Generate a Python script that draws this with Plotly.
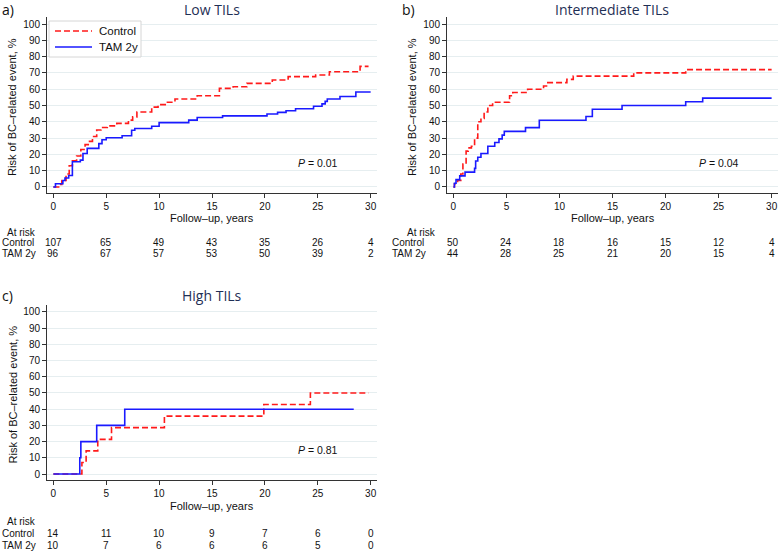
import plotly.graph_objects as go

W, H = 778, 551

# ---------------- data ----------------
a_ctrl_t = [0, 0.5, 0.8, 1.2, 1.5, 1.8, 2.2, 2.6, 3.0, 3.3, 3.7, 4.1, 4.5, 5.1, 6.0, 7.1, 7.5, 7.9, 9.3, 9.9, 10.7, 11.5, 13.6, 15.7, 17.0, 18.3, 20.7, 22.2, 24.8, 26.1, 29.0, 29.8]
a_ctrl_r = [0, 1.5, 4, 8, 13, 16, 19, 23, 26, 28, 31, 35, 36.5, 37.5, 39, 41, 43, 46, 49, 50.5, 52, 54, 56, 60.5, 61.5, 63.6, 65.6, 67.7, 68.7, 70.7, 74, 74]
a_tam_t = [0, 0.2, 0.9, 1.1, 1.45, 1.8, 2.55, 2.8, 3.2, 4.3, 4.6, 5.0, 6.5, 7.4, 7.7, 9.3, 10.0, 12.8, 13.6, 16.0, 20.2, 21.2, 22.0, 22.9, 24.6, 25.4, 25.7, 25.9, 27.1, 28.6, 30.0]
a_tam_r = [0, 2, 4, 5.5, 7, 15.5, 16.5, 20.5, 23.7, 26.6, 29, 30.2, 31.4, 34.8, 35.9, 37.3, 39.5, 41, 42.6, 43.6, 44.8, 45.8, 46.8, 48, 49.5, 51, 52.5, 54, 55.5, 58.3, 58.3]

b_ctrl_t = [0, 0.1, 0.4, 0.7, 0.9, 1.2, 1.4, 1.7, 2.0, 2.3, 2.6, 2.9, 3.25, 3.7, 5.3, 5.6, 7.0, 8.5, 8.9, 10.7, 11.3, 17.0, 21.9, 30.0]
b_ctrl_r = [0, 2, 4, 8, 14, 22, 24, 25, 30, 40, 42, 46, 50, 52, 56, 58, 60, 62, 64, 66, 68, 70, 72, 72]
b_tam_t = [0, 0.1, 0.25, 0.6, 1.1, 2.0, 2.1, 2.3, 2.6, 3.25, 3.9, 4.3, 4.6, 4.8, 6.8, 8.1, 12.5, 13.1, 15.9, 21.9, 23.5, 30.0]
b_tam_r = [0, 2.3, 4.5, 6.8, 9.1, 11.4, 15.9, 18.2, 20.5, 25, 27.3, 29.5, 31.8, 34.1, 36.4, 40.9, 43.2, 47.7, 50, 52.3, 54.5, 54.5]

c_ctrl_t = [0, 2.7, 3.1, 4.2, 5.5, 10.5, 19.9, 24.3, 29.8]
c_ctrl_r = [0, 7.1, 14.3, 21.4, 28.6, 35.7, 42.9, 50, 50]
c_tam_t = [0, 2.5, 2.6, 4.1, 6.75, 28.4]
c_tam_r = [0, 10, 20, 30, 40, 40]

risk_times = [0, 5, 10, 15, 20, 25, 30]
a_ctrl_n = [107, 65, 49, 43, 35, 26, 4]
a_tam_n = [96, 67, 57, 53, 50, 39, 2]
b_ctrl_n = [50, 24, 18, 16, 15, 12, 4]
b_tam_n = [44, 28, 25, 21, 20, 15, 4]
c_ctrl_n = [14, 11, 10, 9, 7, 6, 0]
c_tam_n = [10, 7, 6, 6, 6, 5, 0]

titles = ["Low TILs", "Intermediate TILs", "High TILs"]
panel_labels = ["a)", "b)", "c)"]
p_values = ["0.01", "0.04", "0.81"]
group_names = ["Control", "TAM 2y"]

# ---------------- layout helpers ----------------
def px(x):
    return x / W

def py(y):
    return 1 - y / H

FONT = "Liberation Sans, Arial, sans-serif"
RED = "#ff1a1a"
BLUE = "#1a1aff"
GRID = "#e6eef0"
NAVY = "#1f2f55"
TXT = "#111111"
RED_DASH = "6px,3px"

# panel geometry in pixels: (left, right, top, bottom)
panels = [
    dict(l=47, r=377, t=17, b=193, label_x=0, title_x=212, title_y=9.5, ytitle_x=12,
         xt_y=218, ar_y=232, c_y=242, t_y=253, row_x=0, ar_x=38, p_x=318, p_y=163),
    dict(l=447, r=778, t=17, b=193, label_x=400, title_x=612, title_y=9.5, ytitle_x=412,
         xt_y=218, ar_y=232, c_y=242, t_y=253, row_x=390, ar_x=438, p_x=719, p_y=163),
    dict(l=47, r=377, t=305, b=480, label_x=0, title_x=212, title_y=295, ytitle_x=12,
         xt_y=506, ar_y=521, c_y=533, t_y=545, row_x=0, ar_x=38, p_x=318, p_y=450),
]

data = [
    (a_ctrl_t, a_ctrl_r, a_tam_t, a_tam_r, a_ctrl_n, a_tam_n),
    (b_ctrl_t, b_ctrl_r, b_tam_t, b_tam_r, b_ctrl_n, b_tam_n),
    (c_ctrl_t, c_ctrl_r, c_tam_t, c_tam_r, c_ctrl_n, c_tam_n),
]

fig = go.Figure()
annotations = []
shapes = []
layout_axes = {}

for i, (pn, d) in enumerate(zip(panels, data)):
    k = "" if i == 0 else str(i + 1)
    xref = "x" + k
    yref = "y" + k
    ct, cr, tt, tr, cn, tn = d
    fig.add_trace(go.Scatter(x=ct, y=cr, mode="lines", line_shape="hv", name=group_names[0],
                             line=dict(color=RED, width=1.6, dash=RED_DASH),
                             xaxis=xref, yaxis=yref, showlegend=False))
    fig.add_trace(go.Scatter(x=tt, y=tr, mode="lines", line_shape="hv", name=group_names[1],
                             line=dict(color=BLUE, width=1.6),
                             xaxis=xref, yaxis=yref, showlegend=False))
    layout_axes["xaxis" + k] = dict(
        domain=[px(pn["l"]), px(pn["r"])], range=[-0.6, 30.6], anchor=yref,
        tickvals=risk_times, ticks="outside", ticklen=4, tickcolor="#333",
        showline=True, linecolor="#333", linewidth=1, showgrid=False, zeroline=False,
        tickfont=dict(family=FONT, size=10, color=TXT), fixedrange=True)
    layout_axes["yaxis" + k] = dict(
        domain=[py(pn["b"]), py(pn["t"])], range=[-3.7, 104.3], anchor=xref,
        tickvals=list(range(0, 101, 10)), ticks="outside", ticklen=4, tickcolor="#333",
        showline=True, linecolor="#333", linewidth=1, showgrid=True, gridcolor=GRID,
        gridwidth=1, zeroline=False,
        tickfont=dict(family=FONT, size=10, color=TXT), fixedrange=True)

    annotations.append(dict(text=panel_labels[i], x=px(pn["label_x"]), y=py(pn["title_y"]),
                            xref="paper", yref="paper", xanchor="left", yanchor="middle",
                            showarrow=False, font=dict(family="Open Sans, DejaVu Sans", size=14, color=TXT)))
    annotations.append(dict(text=titles[i], x=px(pn["title_x"]), y=py(pn["title_y"]),
                            xref="paper", yref="paper", xanchor="center", yanchor="middle",
                            showarrow=False, font=dict(family="Open Sans, " + FONT, size=14, color=NAVY)))
    annotations.append(dict(text="Risk of BC\u2013related event, %", x=px(pn["ytitle_x"]),
                            y=py((pn["t"] + pn["b"]) / 2 + 2), xref="paper", yref="paper",
                            xanchor="center", yanchor="middle", textangle=-90, showarrow=False,
                            font=dict(family=FONT, size=11, color=TXT)))
    annotations.append(dict(text="Follow\u2013up, years", x=15, xref=xref, y=py(pn["xt_y"]),
                            yref="paper", xanchor="center", yanchor="middle", showarrow=False,
                            font=dict(family=FONT, size=11, color=TXT)))
    annotations.append(dict(text="<i>P</i> = " + p_values[i], x=px(pn["p_x"]), y=py(pn["p_y"]),
                            xref="paper", yref="paper", xanchor="center", yanchor="middle",
                            showarrow=False, font=dict(family=FONT, size=10.5, color=TXT)))
    annotations.append(dict(text="At risk", x=px(pn["ar_x"]), y=py(pn["ar_y"]), xref="paper",
                            yref="paper", xanchor="right", yanchor="middle", showarrow=False,
                            font=dict(family=FONT, size=10, color=TXT)))
    for name, yy in zip(group_names, [pn["c_y"], pn["t_y"]]):
        annotations.append(dict(text=name, x=px(pn["row_x"]), y=py(yy), xref="paper",
                                yref="paper", xanchor="left", yanchor="middle", showarrow=False,
                                font=dict(family=FONT, size=10, color=TXT)))
    for tv, n1, n2 in zip(risk_times, cn, tn):
        for n, yy in ((n1, pn["c_y"]), (n2, pn["t_y"])):
            annotations.append(dict(text=str(n), x=tv, xref=xref, y=py(yy), yref="paper",
                                    xanchor="center", yanchor="middle", showarrow=False,
                                    font=dict(family=FONT, size=10, color=TXT)))

# legend box (panel a)
shapes.append(dict(type="rect", xref="paper", yref="paper", x0=px(49), x1=px(141),
                   y0=py(57), y1=py(21), line=dict(color="#d6d6d6", width=1),
                   fillcolor="white", layer="above"))
for name, col, dash, yy in ((group_names[0], RED, RED_DASH, 31), (group_names[1], BLUE, "solid", 47)):
    shapes.append(dict(type="line", xref="paper", yref="paper", x0=px(55), x1=px(92),
                       y0=py(yy), y1=py(yy), line=dict(color=col, width=1.6, dash=dash),
                       layer="above"))
    annotations.append(dict(text=name, x=px(97), y=py(yy), xref="paper", yref="paper",
                            xanchor="left", yanchor="middle", showarrow=False,
                            font=dict(family=FONT, size=11.5, color=TXT)))

fig.update_layout(
    width=W, height=H, margin=dict(l=0, r=0, t=0, b=0),
    paper_bgcolor="white", plot_bgcolor="white",
    annotations=annotations, shapes=shapes, showlegend=False,
    **layout_axes,
)

fig.write_html("out.html", config={"displayModeBar": False},
               post_script="document.body.style.margin='0';document.body.style.overflow='hidden';")
